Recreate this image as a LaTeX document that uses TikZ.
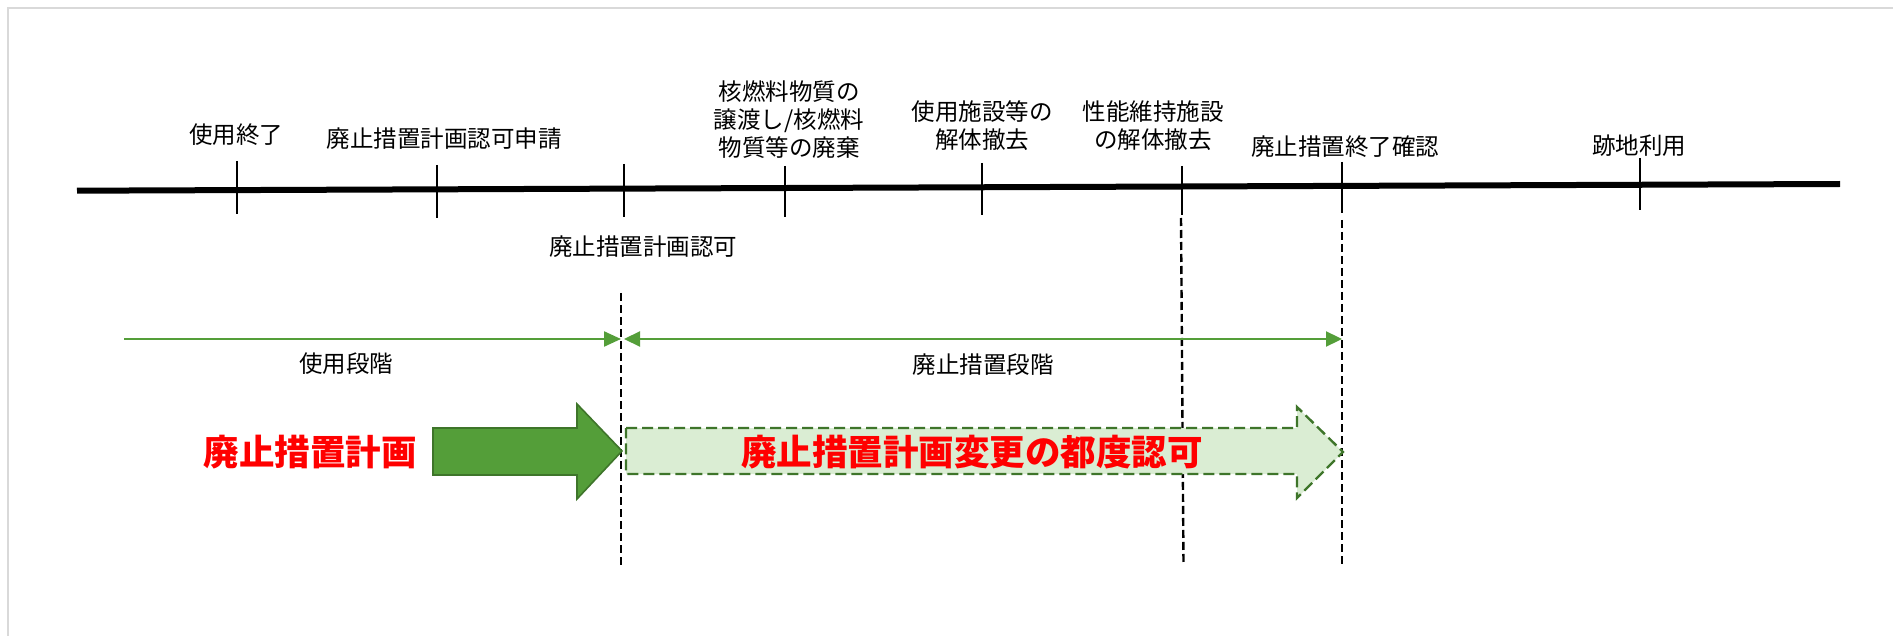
\documentclass[tikz,border=0pt]{standalone}
\usepackage{fontspec}
\setmainfont{Noto Sans CJK JP}
\usetikzlibrary{arrows.meta}
\definecolor{framegray}{RGB}{217,217,217}
\definecolor{midgreen}{RGB}{84,158,57}
\definecolor{darkgreen}{RGB}{62,117,42}
\definecolor{palegreen}{RGB}{218,237,211}
\definecolor{alarmred}{RGB}{255,0,0}
\tikzset{
  lbl/.style={inner sep=0pt, font=\fontsize{23.5}{28}\selectfont, align=center},
  redlbl/.style={inner sep=0pt, text=alarmred, font=\fontsize{35.5}{40}\selectfont\bfseries},
  tick/.style={line width=2.4pt, black},
  vdash/.style={line width=2.4pt, black, dash pattern=on 8pt off 4pt},
  dimline/.style={line width=2.2pt, midgreen},
  tip/.style={Triangle[length=16pt,width=15pt]},
}
\begin{document}
\begin{tikzpicture}[x=1pt,y=-1pt]
\useasboundingbox (0,0) rectangle (1893,636);
\fill[white] (0,0) rectangle (1893,636);
% frame
\draw[framegray, line width=2pt] (8,636) -- (8,8) -- (1893,8);

% timeline
\coordinate (tl) at (77,190.7);
\coordinate (tr) at (1840,184);
\draw[line width=6pt, black] (tl) -- (tr);

% ticks
\coordinate (t1a) at (237,161); \coordinate (t1b) at (237,214);
\coordinate (t2a) at (437,165); \coordinate (t2b) at (437,218);
\coordinate (t3a) at (624,164); \coordinate (t3b) at (624,217);
\coordinate (t4a) at (785,166); \coordinate (t4b) at (785,217);
\coordinate (t5a) at (982,163); \coordinate (t5b) at (982,215);
\coordinate (t6a) at (1182,166); \coordinate (t6b) at (1182,215);
\coordinate (t7a) at (1342,162); \coordinate (t7b) at (1342,213);
\coordinate (t8a) at (1640,158); \coordinate (t8b) at (1640,210);
\foreach \i in {1,...,8} {\draw[tick] (t\i a) -- (t\i b);}

% labels above / below timeline
\node[lbl] (l1) at (236,135) {使用終了};
\node[lbl] (l2) at (444,139) {廃止措置計画認可申請};
\node[lbl] (l3) at (643,247) {廃止措置計画認可};
\node[lbl] (l4) at (789,120) {核燃料物質の\\譲渡し/核燃料\\物質等の廃棄};
\node[lbl] (l5) at (982,126) {使用施設等の\\解体撤去};
\node[lbl] (l6) at (1153,126) {性能維持施設\\の解体撤去};
\node[lbl] (l7) at (1345,147) {廃止措置終了確認};
\node[lbl] (l8) at (1639,146) {跡地利用};

% dashed vertical lines
\coordinate (v1a) at (621,293); \coordinate (v1b) at (621,565);
\coordinate (v2a) at (1181,218); \coordinate (v2b) at (1183.5,565);
\coordinate (v3a) at (1342,220); \coordinate (v3b) at (1342,565);
\draw[vdash] (v1a) -- (v1b);
\draw[vdash] (v2a) -- (v2b);
\draw[vdash] (v3a) -- (v3b);

% phase dimension lines
\coordinate (d1a) at (124,339); \coordinate (d1b) at (621,339);
\coordinate (d2a) at (624,339); \coordinate (d2b) at (1342,339);
\draw[dimline, -{Triangle[length=17pt,width=15pt]}] (d1a) -- (d1b);
\draw[dimline, {Triangle[length=16pt,width=15pt]}-{Triangle[length=16pt,width=15pt]}] (d2a) -- (d2b);
\node[lbl] (p1) at (346,364) {使用段階};
\node[lbl] (p2) at (983,365) {廃止措置段階};

% big solid arrow
\filldraw[fill=midgreen, draw=darkgreen, line width=1.6pt, line join=miter]
  (433,428) -- (577,428) -- (577,404) -- (622,451) -- (577,499) -- (577,475) -- (433,475) -- cycle;
\node[redlbl] (r1) at (310,452) {廃止措置計画};

% dashed light arrow
\filldraw[fill=palegreen, draw=darkgreen, line width=2.4pt, dash pattern=on 11pt off 5pt, line join=miter]
  (626,428) -- (1297,428) -- (1297,407) -- (1343,452) -- (1297,498) -- (1297,474) -- (626,474) -- cycle;
\node[redlbl] (r2) at (972,452) {廃止措置計画変更の都度認可};
\end{tikzpicture}
\end{document}
